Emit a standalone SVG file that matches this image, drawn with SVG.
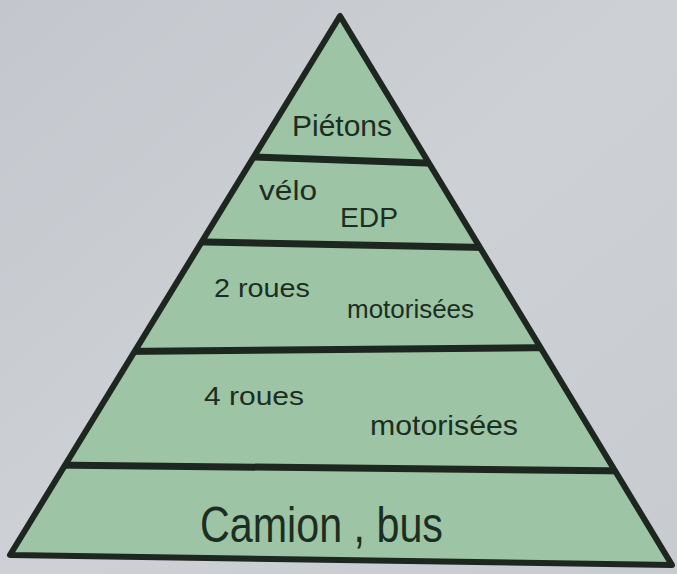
<svg xmlns="http://www.w3.org/2000/svg" width="677" height="574" viewBox="0 0 677 574">
  <defs>
    <linearGradient id="bg" x1="0" y1="0" x2="1" y2="1">
      <stop offset="0" stop-color="#c3c7cd"/>
      <stop offset="0.5" stop-color="#cdd1d5"/>
      <stop offset="1" stop-color="#c8ccd0"/>
    </linearGradient>
    <clipPath id="tri">
      <polygon points="340,16 10,555 672,565"/>
    </clipPath>
    <style>
      .hand { font-family: "Liberation Sans", "DejaVu Sans", sans-serif; fill: #1c2e22; }
      .sep { stroke: #1e2620; stroke-width: 7; stroke-linecap: round; fill: none; }
      .edge { stroke: #1e2620; stroke-width: 6; stroke-linejoin: round; fill: none; }
      .fill { fill: #9dc5a5; }
    </style>
  </defs>
  <rect width="677" height="574" fill="url(#bg)"/>

  <polygon class="fill" points="340,16 10,555 672,565"/>

  <g id="tier-pietons">
    <text class="hand" x="292" y="136" font-size="30" textLength="100" lengthAdjust="spacingAndGlyphs">Piétons</text>
  </g>
  <g id="tier-velo-edp">
    <text class="hand" x="259" y="200" font-size="28" textLength="58" lengthAdjust="spacingAndGlyphs">vélo</text>
    <text class="hand" x="340" y="227" font-size="28" textLength="58" lengthAdjust="spacingAndGlyphs">EDP</text>
  </g>
  <g id="tier-2roues">
    <text class="hand" x="214" y="297" font-size="26" textLength="96" lengthAdjust="spacingAndGlyphs">2 roues</text>
    <text class="hand" x="347" y="318" font-size="26" textLength="127" lengthAdjust="spacingAndGlyphs">motorisées</text>
  </g>
  <g id="tier-4roues">
    <text class="hand" x="204" y="405" font-size="26" textLength="100" lengthAdjust="spacingAndGlyphs">4 roues</text>
    <text class="hand" x="370" y="435" font-size="28" textLength="148" lengthAdjust="spacingAndGlyphs">motorisées</text>
  </g>
  <g id="tier-camion-bus">
    <text class="hand" x="200" y="542" font-size="50" textLength="243" lengthAdjust="spacingAndGlyphs">Camion , bus</text>
  </g>

  <g id="outline">
    <g clip-path="url(#tri)">
      <line class="sep" x1="240" y1="156.5" x2="440" y2="163.5"/>
      <line class="sep" x1="180" y1="241.5" x2="490" y2="247.5"/>
      <line class="sep" x1="120" y1="351.5" x2="560" y2="347.5"/>
      <line class="sep" x1="50" y1="465" x2="630" y2="471"/>
    </g>
    <polygon class="edge" points="340,16 10,555 672,565"/>
  </g>
</svg>
